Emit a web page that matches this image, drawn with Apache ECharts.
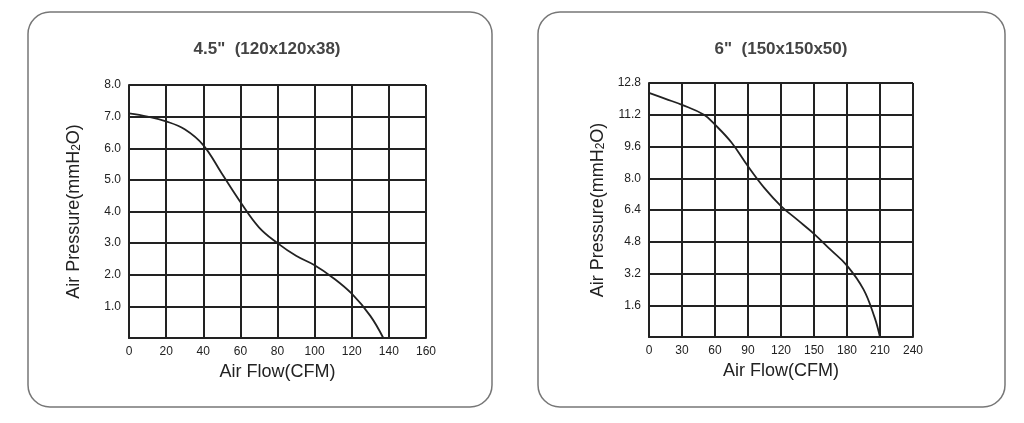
<!DOCTYPE html>
<html>
<head>
<meta charset="utf-8">
<script src="https://cdn.jsdelivr.net/npm/echarts@6/dist/echarts.min.js"></script>
<style>html,body{margin:0;background:#fff}#main{width:1024px;height:423px}</style>
</head>
<body>
<div id="main"></div>
<script>
// fan curves
let fan45Flow = [0, 10, 20, 30, 40, 50, 60, 70, 80, 90, 100, 110, 120, 130, 137];
let fan45Pres = [7.1, 7.0, 6.85, 6.6, 6.1, 5.2, 4.3, 3.5, 3.0, 2.6, 2.3, 1.9, 1.4, 0.7, 0];
let fan6Flow = [0, 15, 30, 50, 60, 75, 90, 105, 120, 135, 150, 165, 180, 195, 205, 210];
let fan6Pres = [12.3, 12.0, 11.7, 11.2, 10.7, 9.8, 8.6, 7.5, 6.6, 5.9, 5.2, 4.4, 3.6, 2.4, 1.0, 0];
let titles = ['4.5"  (120x120x38)', '6"  (150x150x50)'];

var myChart = echarts.init(document.getElementById('main'));

function pairs(xs, ys) {
    return xs.map((x, i) => [x, ys[i]]);
}

let lineStyle = { color: '#222', width: 2 };
let label = { color: '#222', fontSize: 12, fontFamily: 'Liberation Sans' };
let nameRich = { s: { fontSize: 12, verticalAlign: 'bottom', padding: [6, 0, 0, 0] } };

function xAxis(idx, max, step) {
    return {
        gridIndex: idx, type: 'value', min: 0, max: max, interval: step,
        name: 'Air Flow(CFM)', nameLocation: 'middle', nameGap: 22,
        nameTextStyle: { fontSize: 18, color: '#222', fontFamily: 'Liberation Sans' },
        axisLine: { lineStyle: lineStyle }, axisTick: { show: false },
        axisLabel: Object.assign({ margin: 8 }, label),
        splitLine: { lineStyle: lineStyle }
    };
}
function yAxis(idx, max, step, dec, gap) {
    return {
        gridIndex: idx, type: 'value', min: 0, max: max, interval: step,
        name: 'Air Pressure(mmH{s|2}O)', nameLocation: 'middle', nameGap: gap,
        nameTextStyle: { fontSize: 18, color: '#222', fontFamily: 'Liberation Sans', rich: nameRich },
        axisLine: { lineStyle: lineStyle }, axisTick: { show: false },
        axisLabel: Object.assign({ margin: 8, formatter: v => v === 0 ? '' : v.toFixed(dec) }, label),
        splitLine: { lineStyle: lineStyle }
    };
}

var option = {
    animation: false,
    graphic: [
        { type: 'rect', shape: { x: 28, y: 12, width: 464, height: 395, r: 22 }, style: { fill: 'none', stroke: '#777', lineWidth: 1.5 } },
        { type: 'rect', shape: { x: 538, y: 12, width: 467, height: 395, r: 22 }, style: { fill: 'none', stroke: '#777', lineWidth: 1.5 } }
    ],
    title: [
        { text: titles[0], left: 262, top: 36, textAlign: 'center', textStyle: { fontSize: 17, color: '#444', fontFamily: 'Liberation Sans' } },
        { text: titles[1], left: 776, top: 36, textAlign: 'center', textStyle: { fontSize: 17, color: '#444', fontFamily: 'Liberation Sans' } }
    ],
    grid: [
        { left: 129, top: 85, width: 297, height: 253 },
        { left: 649, top: 83, width: 264, height: 254 }
    ],
    xAxis: [xAxis(0, 160, 20), xAxis(1, 240, 30)],
    yAxis: [yAxis(0, 8, 1, 1, 46), yAxis(1, 12.8, 1.6, 1, 42)],
    series: [
        { type: 'line', xAxisIndex: 0, yAxisIndex: 0, data: pairs(fan45Flow, fan45Pres), smooth: 0.4, showSymbol: false, lineStyle: { color: '#222', width: 1.8 } },
        { type: 'line', xAxisIndex: 1, yAxisIndex: 1, data: pairs(fan6Flow, fan6Pres), smooth: 0.4, showSymbol: false, lineStyle: { color: '#222', width: 1.8 } }
    ]
};
myChart.setOption(option);
</script>
</body>
</html>
